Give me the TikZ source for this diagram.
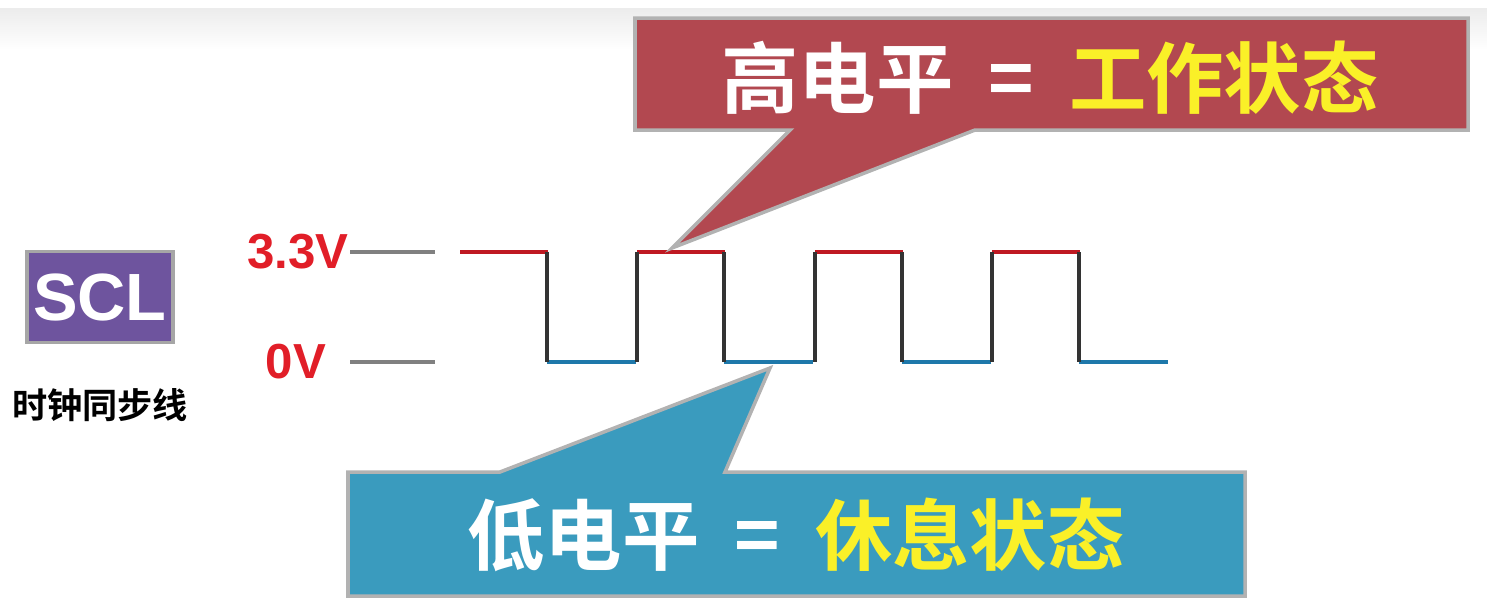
\documentclass[tikz,border=0pt]{standalone}
\usepackage{fontspec}
\setmainfont{Liberation Sans}
\newfontfamily\cjk{Noto Sans CJK SC}[BoldFont={* Bold}]
\usetikzlibrary{calc,positioning}
\definecolor{calloutred}{RGB}{178,72,80}
\definecolor{calloutblue}{RGB}{58,155,190}
\definecolor{sclpurple}{RGB}{110,84,158}
\definecolor{highred}{RGB}{225,30,40}
\definecolor{lowblue}{RGB}{30,120,170}
\definecolor{labelyellow}{RGB}{250,240,40}
\tikzset{
  calloutbox/.style={draw=gray!60, line width=1pt},
  bigtext/.style={font=\cjk\bfseries\fontsize{22}{22}\selectfont, text=white},
  levellabel/.style={font=\bfseries\fontsize{14}{14}\selectfont, text=highred},
  guide/.style={gray, line width=1pt},
  wave/.style={line width=1.3pt}
}
\begin{document}
\begin{tikzpicture}[x=0.01cm,y=-0.01cm]
    \useasboundingbox (0,0) rectangle (1487,614);
    \fill [top color=gray!15, bottom color=white] (0,8) rectangle (1487,50);

    % SCL box
    \node [draw=gray!70, line width=1pt, fill=sclpurple, inner sep=0pt, minimum width=1.46cm, minimum height=0.91cm,
           text=white, font=\bfseries\fontsize{19}{19}\selectfont] (scl) at (100,297) {SCL};
    \node [font=\cjk\bfseries\fontsize{10}{10}\selectfont] (scltext) at (100,405) {时钟同步线};

    % levels
    \node [levellabel] (vhigh) at (298,252) {3.3V};
    \node [levellabel] (vlow) at (296,362) {0V};
    \coordinate (ghs) at (350,252); \coordinate (ghe) at (435,252);
    \coordinate (gls) at (350,362); \coordinate (gle) at (435,362);
    \draw [guide] (ghs) -- (ghe);
    \draw [guide] (gls) -- (gle);

    % waveform
    \foreach \x in {460,637,815,992} {
        \draw [wave, highred!85!black] (\x,252) -- ({\x+88},252);
    }
    \foreach \x in {547,724,902,1079} {
        \draw [wave, lowblue] (\x,362) -- ({\x+89},362);
        \draw [line width=1pt, black!80] (\x,252) -- (\x,362);
    }
    \foreach \x in {637,815,992} {
        \draw [line width=1pt, black!80] (\x,252) -- (\x,362);
    }

    % callouts
    \coordinate (htip) at (672,248);
    \coordinate (ltip) at (770,368);
    \draw [calloutbox, fill=calloutred] (635,18) -- (1468,18) -- (1468,130) -- (975,130)
        -- (htip) -- (790,130) -- (635,130) -- cycle;
    \draw [calloutbox, fill=calloutblue] (348,472) -- (500,472) -- (ltip) -- (725,472)
        -- (1245,472) -- (1245,596) -- (348,596) -- cycle;
    \node [bigtext] (hightext) at (1050,78) {高电平\ \ =\ \ \textcolor{labelyellow}{工作状态}};
    \node [bigtext] (lowtext) at (796,535) {低电平\ \ =\ \ \textcolor{labelyellow}{休息状态}};
\end{tikzpicture}
\end{document}
